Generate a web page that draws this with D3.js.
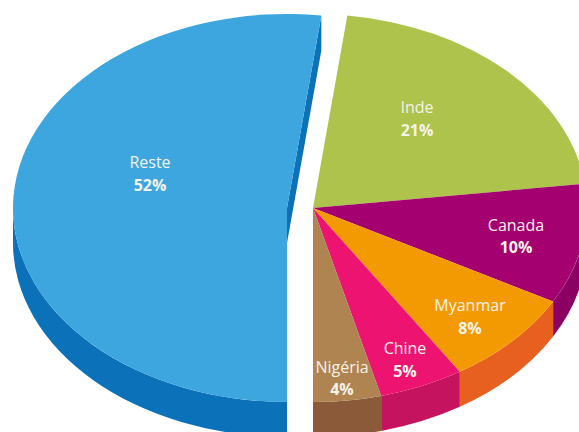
<!DOCTYPE html>
<html lang="fr">
<head>
<meta charset="utf-8">
<script src="https://cdn.jsdelivr.net/npm/d3@7"></script>
<style>
  html, body { margin: 0; padding: 0; background: #fff; overflow: hidden; }
  svg { display: block; }
  text { font-family: "Open Sans", sans-serif; font-size: 16px; text-anchor: middle; dominant-baseline: central; }
</style>
</head>
<body>
<svg id="chart" width="579" height="432"></svg>
<script>
// Slices, clockwise from the bottom of the pie
const categories = ["Reste", "Inde", "Canada", "Myanmar", "Chine", "Nigéria"];
const shares = [52, 21, 10, 8, 5, 4];
const topColors = ["#3ea6df", "#adc34b", "#a4006f", "#f39a03", "#ec1470", "#b08450"];
const sideColors = ["#0b72b9", "#7d9a35", "#8c0063", "#e8601f", "#c5135f", "#8b5a38"];

// Pie geometry
const cx = 313, cy = 208, rx = 274, ry = 194, depth = 35;
const explodeX = -26; // Reste is pulled out to the left

// Label centres: name line and percentage line
const labelLayout = [
  { x: 150, name: 162, pct: 185 },
  { x: 417, name: 107, pct: 130 },
  { x: 516, name: 225, pct: 247 },
  { x: 470, name: 305, pct: 328 },
  { x: 405, name: 348, pct: 371 },
  { x: 342, name: 367, pct: 389 }
];

const data = categories.map((name, i) => ({ name, share: shares[i], i }));

const pie = d3.pie()
  .value(d => d.share)
  .sort(null)
  .startAngle(Math.PI)
  .endAngle(3 * Math.PI);

const slices = pie(data);
const arc = d3.arc().innerRadius(0).outerRadius(rx);
const svg = d3.select("#chart");

const rim = (a, ox) => [ox + rx * Math.sin(a), cy - ry * Math.cos(a)];
const offset = d => (d.index === 0 ? explodeX : 0);

// Outer wall: only the part of the rim in the lower half of the ellipse shows
function wallPath(d) {
  const turn = d.startAngle >= 2 * Math.PI ? 2 * Math.PI : 0;
  const a0 = Math.max(d.startAngle - turn, Math.PI / 2);
  const a1 = Math.min(d.endAngle - turn, 1.5 * Math.PI);
  if (a1 <= a0) return null;
  const ox = cx + offset(d);
  const [x0, y0] = rim(a0, ox);
  const [x1, y1] = rim(a1, ox);
  return `M${x0},${y0}A${rx},${ry} 0 0 1 ${x1},${y1}` +
         `L${x1},${y1 + depth}A${rx},${ry} 0 0 0 ${x0},${y0 + depth}Z`;
}

// Cut face of the exploded slice, seen through the gap
const reste = slices[0];
const [ex, ey] = rim(reste.endAngle, cx + explodeX);
const apexX = cx + explodeX;
svg.append("path")
  .attr("d", d3.line()([[ex, ey], [ex, ey + depth], [apexX, cy + depth], [apexX, cy]]))
  .attr("fill", sideColors[0]);

// Walls
svg.append("g").selectAll("path")
  .data(slices.filter(d => wallPath(d)))
  .join("path")
  .attr("d", wallPath)
  .attr("fill", d => sideColors[d.index]);

// Top faces: a circular arc squashed into the ellipse
svg.append("g").selectAll("path")
  .data(slices)
  .join("path")
  .attr("transform", d => `translate(${cx + offset(d)},${cy}) scale(1,${ry / rx})`)
  .attr("d", arc)
  .attr("fill", d => topColors[d.index]);

// Labels
const labels = svg.append("g").selectAll("g")
  .data(slices)
  .join("g")
  .attr("fill", "#f5f2e8");

labels.append("text")
  .attr("x", d => labelLayout[d.index].x)
  .attr("y", d => labelLayout[d.index].name)
  .text(d => d.data.name);

labels.append("text")
  .attr("x", d => labelLayout[d.index].x)
  .attr("y", d => labelLayout[d.index].pct)
  .attr("font-weight", "700")
  .text(d => d.data.share + "%");
</script>
</body>
</html>
